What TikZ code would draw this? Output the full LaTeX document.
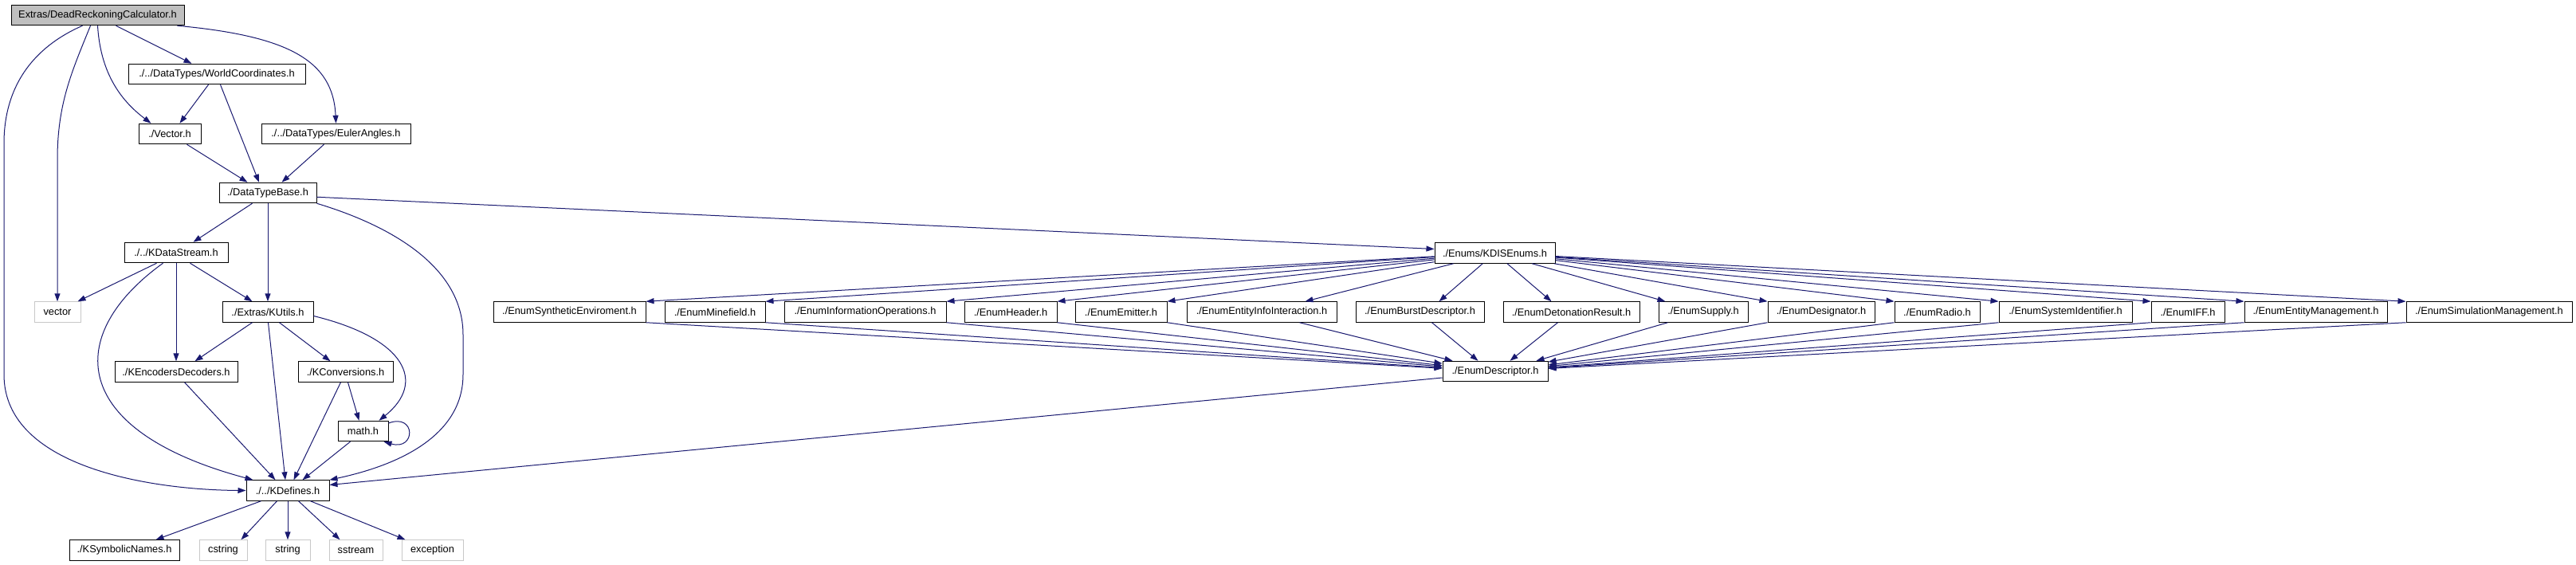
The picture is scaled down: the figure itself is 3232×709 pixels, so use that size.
\documentclass[tikz,border=0pt]{standalone}
\usepackage{fontspec}
\setmainfont{Liberation Sans}
\usetikzlibrary{arrows.meta,calc}
\definecolor{edgecol}{HTML}{191970}
\definecolor{drcgray}{HTML}{BFBFBF}
\definecolor{sysgray}{HTML}{C8C8C8}
\tikzset{
  box/.style={draw=black, line width=1pt, fill=white, minimum height=25.5pt, inner sep=0pt, font=\fontsize{12.8}{15}\selectfont},
  sysbox/.style={box, draw=sysgray},
  edge/.style={draw=edgecol, line width=1pt, -{Triangle[length=10pt,width=7pt]}}
}
\begin{document}
\begin{tikzpicture}[x=1pt,y=-1pt]
\fill[white] (0,0) rectangle (3232,709);
\useasboundingbox (0,0) rectangle (3232,709);
% nodes
\node[box, fill=drcgray, minimum width=217pt] (DRC) at (122.5,19) {Extras/DeadReckoningCalculator.h};
\node[box, minimum width=222pt] (WC) at (272,93) {./../DataTypes/WorldCoordinates.h};
\node[box, minimum width=78pt] (Vec) at (213,168) {./Vector.h};
\node[box, minimum width=187pt] (Euler) at (421.5,168) {./../DataTypes/EulerAngles.h};
\node[box, minimum width=122pt] (DTB) at (336,242) {./DataTypeBase.h};
\node[box, minimum width=130pt] (KDS) at (221,317) {./../KDataStream.h};
\node[box, minimum width=151pt] (KDIS) at (1875.5,317.5) {./Enums/KDISEnums.h};
\node[sysbox, minimum width=58pt] (vectorSys) at (72,391.5) {vector};
\node[box, minimum width=114pt] (KUtils) at (336,391.5) {./Extras/KUtils.h};
\node[box, minimum width=191pt] (ESE) at (714.5,391.5) {./EnumSyntheticEnviroment.h};
\node[box, minimum width=126pt] (EMF) at (897,391.5) {./EnumMinefield.h};
\node[box, minimum width=203pt] (EIO) at (1085.5,391.5) {./EnumInformationOperations.h};
\node[box, minimum width=116pt] (EHD) at (1268,391.5) {./EnumHeader.h};
\node[box, minimum width=115pt] (EEM) at (1406.5,391.5) {./EnumEmitter.h};
\node[box, minimum width=188pt] (EEII) at (1583,391.5) {./EnumEntityInfoInteraction.h};
\node[box, minimum width=161pt] (EBD) at (1781.5,391.5) {./EnumBurstDescriptor.h};
\node[box, minimum width=171pt] (EDR) at (1971.5,391.5) {./EnumDetonationResult.h};
\node[box, minimum width=112pt] (ESU) at (2137,391.5) {./EnumSupply.h};
\node[box, minimum width=134pt] (EDS) at (2285,391.5) {./EnumDesignator.h};
\node[box, minimum width=107pt] (ERA) at (2430.5,391.5) {./EnumRadio.h};
\node[box, minimum width=167pt] (ESI) at (2591.5,391.5) {./EnumSystemIdentifier.h};
\node[box, minimum width=92pt] (EIFF) at (2745,391.5) {./EnumIFF.h};
\node[box, minimum width=179pt] (EEMG) at (2905.5,391.5) {./EnumEntityManagement.h};
\node[box, minimum width=208pt] (ESM) at (3123,391.5) {./EnumSimulationManagement.h};
\node[box, minimum width=154pt] (KED) at (221,466.5) {./KEncodersDecoders.h};
\node[box, minimum width=119pt] (KCV) at (433.5,466.5) {./KConversions.h};
\node[box, minimum width=132pt] (EDesc) at (1876,466) {./EnumDescriptor.h};
\node[box, minimum width=63pt] (math) at (455.5,541) {math.h};
\node[box, minimum width=104pt] (KDef) at (361,615.5) {./../KDefines.h};
\node[box, minimum width=138pt] (KSN) at (156,690.5) {./KSymbolicNames.h};
\node[sysbox, minimum width=60pt] (cstring) at (280,690.5) {cstring};
\node[sysbox, minimum width=56pt] (string) at (361,690.5) {string};
\node[sysbox, minimum width=67pt] (sstream) at (446.5,690.5) {sstream};
\node[sysbox, minimum width=77pt] (exception) at (542.5,690.5) {exception};
% edges from DRC
\draw[edge] ($(DRC.south west)+(90,0)$) .. controls (40,60) and (5,110) .. (5,180) -- (5,470) .. controls (5,590) and (200,615) .. (KDef.west);
\draw[edge] ($(DRC.south west)+(100,0)$) .. controls (90,90) and (72,130) .. (72,200) -- (vectorSys.north);
\draw[edge] ($(DRC.south west)+(109,0)$) .. controls (126,90) and (150,125) .. ($(Vec.north west)+(16,0)$);
\draw[edge] ($(DRC.south west)+(132,0)$) -- ($(WC.north west)+(80,0)$);
\draw[edge] ($(DRC.south east)+(-9,0)$) .. controls (360,45) and (418,75) .. (Euler.north);
% upper part
\draw[edge] ($(WC.south west)+(101,0)$) -- ($(Vec.north east)+(-27,0)$);
\draw[edge] ($(WC.south west)+(116,0)$) -- ($(DTB.north)+(-11,0)$);
\draw[edge] ($(Vec.south east)+(-18,0)$) -- ($(DTB.north west)+(36,0)$);
\draw[edge] ($(Euler.south west)+(79,0)$) -- ($(DTB.north west)+(79,0)$);
\draw[edge] ($(DTB.south west)+(42,0)$) -- ($(KDS.north west)+(87,0)$);
\draw[edge] (DTB) -- (KUtils);
\draw[edge] (DTB.south east) .. controls (480,280) and (581,330) .. (581,420) -- (581,470) .. controls (581,560) and (470,590) .. (KDef.north east);
\draw[edge] ($(DTB.south east)+(0,-8)$) -- ($(KDIS.west)+(0,-5)$);
% KDataStream
\draw[edge] ($(KDS.south west)+(41,0)$) -- ($(vectorSys.north east)+(-4,0)$);
\draw[edge] (KDS) -- (KED);
\draw[edge] ($(KDS.south west)+(83,0)$) -- ($(KUtils.north west)+(38,0)$);
\draw[edge] ($(KDS.south west)+(49,0)$) .. controls (80,420) and (85,540) .. ($(KDef.north west)+(9,0)$);
% KUtils
\draw[edge] ($(KUtils.south west)+(38,0)$) -- ($(KED.north east)+(-54,0)$);
\draw[edge] ($(KUtils.south west)+(58,0)$) -- ($(KDef.north)+(-3,0)$);
\draw[edge] ($(KUtils.south west)+(72,0)$) -- ($(KCV.north west)+(41,0)$);
\draw[edge] ($(KUtils.east)+(0,5)$) .. controls (510,425) and (535,480) .. ($(math.north east)+(-12,0)$);
% lower part
\draw[edge] ($(KED.south west)+(88,0)$) -- ($(KDef.north west)+(37,0)$);
\draw[edge] ($(KCV.south west)+(54,0)$) -- ($(KDef.north west)+(60,0)$);
\draw[edge] ($(KCV.south west)+(63,0)$) -- ($(math.north west)+(27,0)$);
\draw[edge] ($(math.east)+(0,-10)$) .. controls (522,518) and (522,566) .. ($(math.south east)+(-6,0)$);
\draw[edge] ($(math.south west)+(16,0)$) -- ($(KDef.north east)+(-34,0)$);
\draw[edge] ($(EDesc.west)+(0,8)$) -- ($(KDef.east)+(0,-7)$);
\draw[edge] ($(KDef.south west)+(19,0)$) -- ($(KSN.north east)+(-30,0)$);
\draw[edge] ($(KDef.south west)+(39,0)$) -- ($(cstring.north east)+(-8,0)$);
\draw[edge] (KDef) -- (string);
\draw[edge] ($(KDef.south west)+(66,0)$) -- ($(sstream.north west)+(14,0)$);
\draw[edge] ($(KDef.south west)+(81,0)$) -- ($(exception.north west)+(5,0)$);
% KDISEnums to enums
\draw[edge] (KDIS) -- (ESE.north east);
\draw[edge] (KDIS) -- (EMF.north east);
\draw[edge] (KDIS) -- (EIO.north east);
\draw[edge] (KDIS) -- (EHD.north east);
\draw[edge] (KDIS) -- (EEM.north east);
\draw[edge] (KDIS) -- ($(EEII.north east)+(-40,0)$);
\draw[edge] (KDIS) -- ($(EBD.north)+(24,0)$);
\draw[edge] (KDIS) -- ($(EDR.north west)+(61,0)$);
\draw[edge] (KDIS) -- ($(ESU.north west)+(9,0)$);
\draw[edge] (KDIS) -- (EDS.north west);
\draw[edge] (KDIS) -- (ERA.north west);
\draw[edge] (KDIS) -- (ESI.north west);
\draw[edge] (KDIS) -- (EIFF.north west);
\draw[edge] (KDIS) -- (EEMG.north west);
\draw[edge] (KDIS) -- (ESM.north west);
% enums to EnumDescriptor
\draw[edge] (ESE.south east) -- (EDesc);
\draw[edge] (EMF.south east) -- (EDesc);
\draw[edge] (EIO.south east) -- (EDesc);
\draw[edge] (EHD.south east) -- (EDesc);
\draw[edge] (EEM.south east) -- (EDesc);
\draw[edge] ($(EEII.south east)+(-47,0)$) -- ($(EDesc.north west)+(13,0)$);
\draw[edge] ($(EBD.south)+(15,0)$) -- ($(EDesc.north west)+(45,0)$);
\draw[edge] ($(EDR.south west)+(69,0)$) -- ($(EDesc.north west)+(85,0)$);
\draw[edge] ($(ESU.south west)+(12,0)$) -- ($(EDesc.north east)+(-15,0)$);
\draw[edge] (EDS.south west) -- (EDesc);
\draw[edge] (ERA.south west) -- (EDesc);
\draw[edge] (ESI.south west) -- (EDesc);
\draw[edge] (EIFF.south west) -- (EDesc);
\draw[edge] (EEMG.south west) -- (EDesc);
\draw[edge] (ESM.south west) -- (EDesc);
\end{tikzpicture}
\end{document}
